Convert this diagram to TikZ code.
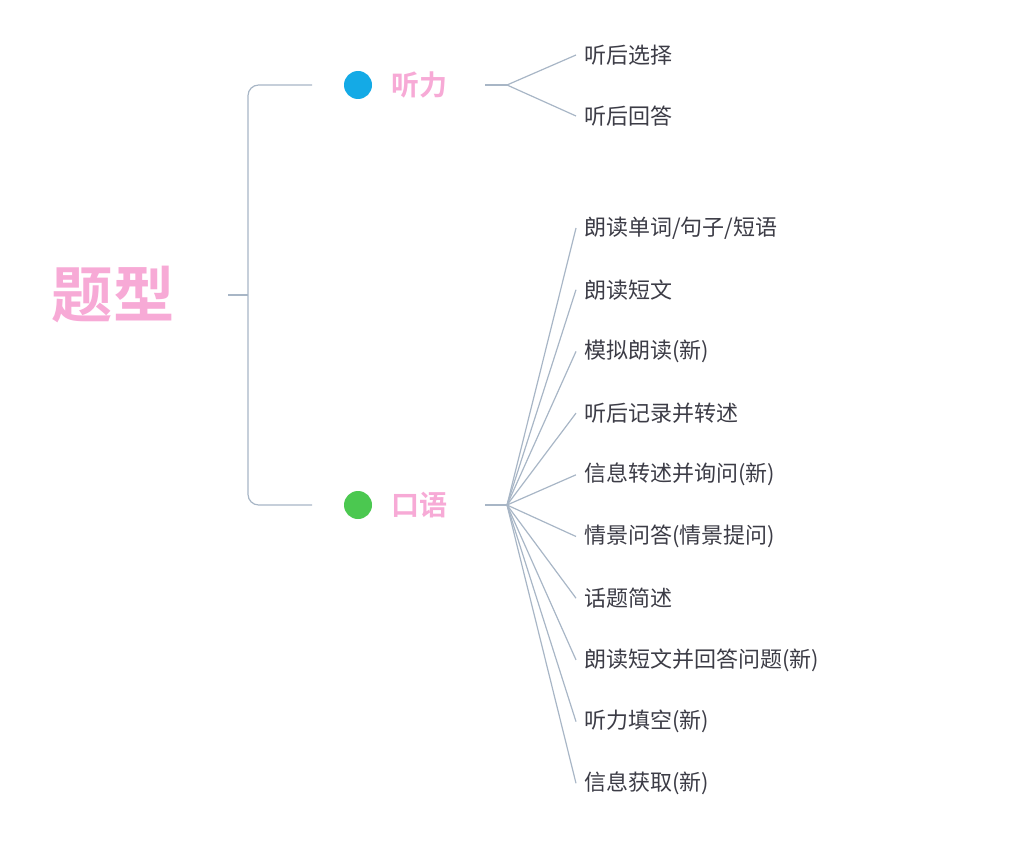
\documentclass[tikz,border=0pt]{standalone}
\usepackage{fontspec}
\newfontfamily\cjk{Noto Sans CJK SC}
\newfontfamily\cjkb{Noto Sans CJK SC Bold}
\definecolor{pk}{RGB}{247,170,214}
\definecolor{ln}{RGB}{168,182,198}
\definecolor{tx}{RGB}{60,60,70}
\definecolor{bl}{RGB}{20,170,230}
\definecolor{gr}{RGB}{75,200,80}
\begin{document}
\begin{tikzpicture}[x=0.75pt,y=-0.75pt,
  leaf/.style={anchor=west,inner sep=0pt,font=\cjk\fontsize{16.5}{18}\selectfont,text=tx},
  conn/.style={draw=ln,line width=0.9pt},
  lvl/.style={anchor=west,inner sep=0pt,font=\cjkb\fontsize{21}{24}\selectfont,text=pk}]
\useasboundingbox (0,0) rectangle (1028,845);
\node[inner sep=0pt,font=\cjkb\fontsize{46}{50}\selectfont,text=pk] (root) at (113,295) {题型};
\coordinate (rj) at (248,295);
\draw[conn] (228,295) -- (rj);
\draw[conn,rounded corners=8pt] (312,85) -- (248,85) -- (248,505) -- (312,505);
\fill[bl] (358,85) circle (14);
\fill[gr] (358,505) circle (14);
\node[lvl] (l1) at (391,85) {听力};
\node[lvl] (l2) at (391,505) {口语};
\coordinate (h1) at (507,85);
\coordinate (h2) at (507,505);
\draw[conn] (485,85) -- (h1);
\draw[conn] (485,505) -- (h2);
\foreach \t [count=\i] in {听后选择,听后回答}{
  \node[leaf] (a\i) at (584,{55+61*(\i-1)}) {\t};
  \draw[conn] (h1) -- ([xshift=-6pt]a\i.west);
}
\foreach \t [count=\i] in {朗读单词/句子/短语,朗读短文,模拟朗读(新),听后记录并转述,信息转述并询问(新),情景问答(情景提问),话题简述,朗读短文并回答问题(新),听力填空(新),信息获取(新)}{
  \node[leaf] (b\i) at (584,{228+61.7*(\i-1)}) {\t};
  \draw[conn] (h2) -- ([xshift=-6pt]b\i.west);
}
\end{tikzpicture}
\end{document}
